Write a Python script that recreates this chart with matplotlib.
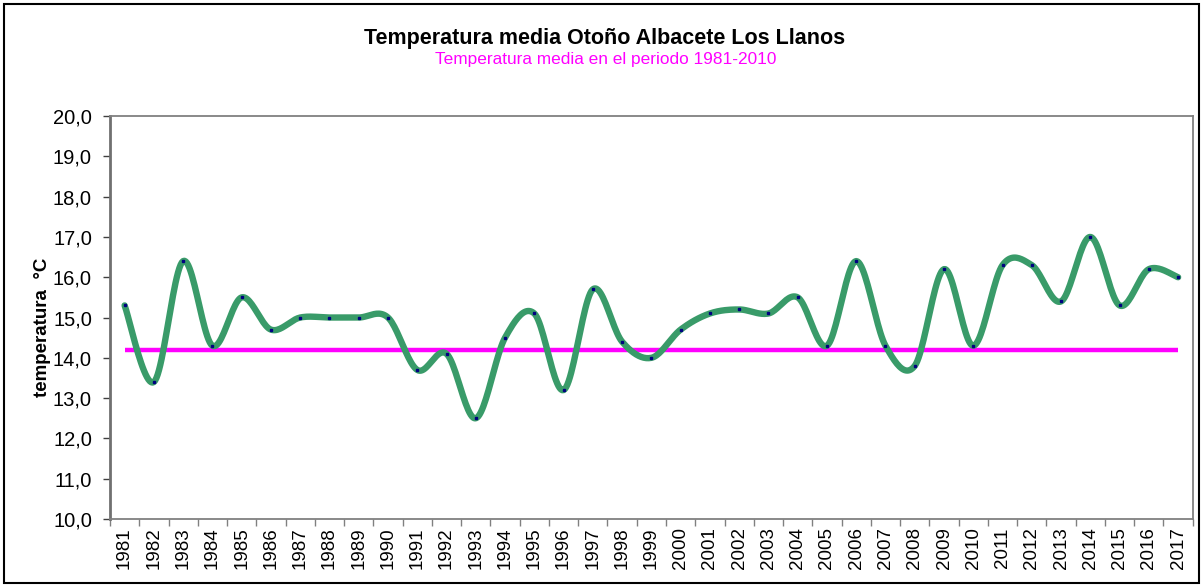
import matplotlib
matplotlib.use("Agg")
import matplotlib.pyplot as plt
import numpy as np
from matplotlib.patches import Rectangle

years = list(range(1981, 2018))
temps = [15.3, 13.4, 16.4, 14.3, 15.5, 14.7, 15.0, 15.0, 15.0, 15.0,
         13.7, 14.1, 12.5, 14.5, 15.1, 13.2, 15.7, 14.4, 14.0, 14.7,
         15.1, 15.2, 15.1, 15.5, 14.3, 16.4, 14.3, 13.8, 16.2, 14.3,
         16.3, 16.3, 15.4, 17.0, 15.3, 16.2, 16.0]
mean_ref = 14.2          # media 1981-2010
yticks = np.arange(10, 20.01, 1.0)

GREEN, PINK, NAVY, AXGREY = "#399b69", "#ff00ff", "#000080", "#808080"

plt.rcParams.update({"font.family": ["Liberation Sans", "DejaVu Sans"]})


def excel_smooth(x, y, n=24):
    """Bezier smoothing like Excel's 'smoothed line' (Catmull-Rom, 1/6 handles)."""
    px = np.concatenate([[x[0]], x, [x[-1]]])
    py = np.concatenate([[y[0]], y, [y[-1]]])
    t = np.linspace(0, 1, n)[:, None]
    xs, ys = [], []
    for i in range(1, len(px) - 2):
        p0 = np.array([px[i - 1], py[i - 1]]); p1 = np.array([px[i], py[i]])
        p2 = np.array([px[i + 1], py[i + 1]]); p3 = np.array([px[i + 2], py[i + 2]])
        c1 = p1 + (p2 - p0) / 6.0
        c2 = p2 - (p3 - p1) / 6.0
        b = ((1 - t) ** 3) * p1 + 3 * ((1 - t) ** 2) * t * c1 + 3 * (1 - t) * t ** 2 * c2 + t ** 3 * p2
        xs.append(b[:, 0]); ys.append(b[:, 1])
    return np.concatenate(xs), np.concatenate(ys)


fig = plt.figure(figsize=(12.02, 5.86), dpi=100)
ax = fig.add_axes([0.0915, 0.1143, 0.9008, 0.6877])

x = np.arange(len(years))
sx, sy = excel_smooth(x.astype(float), np.array(temps))
ax.plot([x[0], x[-1]], [mean_ref, mean_ref], color=PINK, lw=3.2, zorder=2,
        solid_capstyle="butt")
ax.plot(sx, sy, color=GREEN, lw=4.6, zorder=3, solid_capstyle="round")
ax.plot(x, temps, ls="none", marker="s", ms=1.6, color=NAVY, zorder=4)

ax.set_xlim(-0.5, len(years) - 0.5)
ax.set_ylim(10, 20)
ax.set_yticks(yticks)
ax.set_yticklabels([f"{v:.1f}".replace(".", ",") for v in yticks], fontsize=14.5)
ax.set_xticks(x)
ax.set_xticklabels([str(y) for y in years], rotation=90, fontsize=13.5)
ax.set_xticks(np.arange(-0.5, len(years)), minor=True)
ax.tick_params(axis="x", which="major", length=0, pad=6)
ax.tick_params(axis="x", which="minor", length=5, width=1, color=AXGREY, direction="out")
ax.tick_params(axis="y", length=5, width=1, color="#404040", direction="out", pad=8)

for sp in ax.spines.values():
    sp.set_color(AXGREY); sp.set_linewidth(1.3)
ax.spines["left"].set_linewidth(2)
ax.spines["left"].set_color("#707070")

ax.set_ylabel("temperatura  °C", fontsize=13.5, fontweight="bold")
ax.yaxis.set_label_coords(-0.0545, 0.475)

fig.text(0.503, 0.935, "Temperatura media Otoño Albacete Los Llanos",
         ha="center", va="center", fontsize=15.5, fontweight="bold")
fig.text(0.504, 0.899, "Temperatura media en el periodo 1981-2010",
         ha="center", va="center", fontsize=12.4, color=PINK)

fig.patches.append(Rectangle((4 / 1202, 3 / 586), 1195 / 1202, 579 / 586,
                             transform=fig.transFigure, fill=False,
                             edgecolor="black", lw=1.5))

fig.savefig("out.png", dpi=100, facecolor="white")
